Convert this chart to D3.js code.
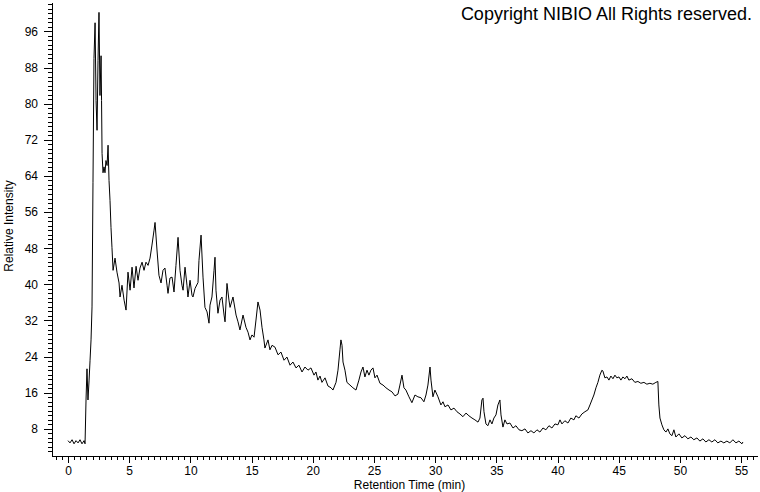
<!DOCTYPE html>
<html>
<head>
<meta charset="utf-8">
<script src="https://cdn.jsdelivr.net/npm/d3@7"></script>
<style>
	body { margin: 0; background: #fff; }
	svg { display: block; }
	.axis text { font-family: "Liberation Sans", Arial, sans-serif; font-size: 12px; fill: #000; }
	.axis path, .axis line { stroke: #000; shape-rendering: crispEdges; }
</style>
</head>
<body>
<div id="chart-area"></div>
<script>

// Chromatogram
let retentionTimes = [
	0.0, 0.16, 0.33, 0.49, 0.65, 0.82, 0.98, 1.14, 1.31, 1.39,
	1.47, 1.55, 1.63, 1.72, 1.80, 1.88, 1.96, 2.04, 2.12, 2.21,
	2.29, 2.37, 2.45, 2.53, 2.61, 2.70, 2.74, 2.78, 2.86, 2.94,
	3.02, 3.10, 3.19, 3.27, 3.35, 3.43, 3.51, 3.59, 3.68, 3.84,
	4.00, 4.17, 4.25, 4.41, 4.58, 4.74, 4.90, 5.07, 5.23, 5.39,
	5.56, 5.72, 5.88, 6.05, 6.21, 6.37, 6.54, 6.70, 6.86, 7.03,
	7.11, 7.27, 7.43, 7.60, 7.76, 7.92, 8.09, 8.17, 8.33, 8.50,
	8.66, 8.82, 8.99, 9.15, 9.31, 9.40, 9.56, 9.72, 9.80, 9.97,
	10.13, 10.21, 10.38, 10.62, 10.70, 10.87, 11.03, 11.19, 11.36, 11.52,
	11.60, 11.76, 11.93, 12.01, 12.09, 12.25, 12.42, 12.58, 12.75, 12.83,
	12.99, 13.15, 13.24, 13.48, 13.73, 13.89, 14.05, 14.30, 14.54, 14.71,
	14.87, 15.03, 15.20, 15.36, 15.52, 15.69, 15.85, 16.01, 16.09, 16.34,
	16.50, 16.67, 16.91, 17.16, 17.40, 17.65, 17.89, 18.14, 18.38, 18.63,
	18.87, 19.12, 19.36, 19.61, 19.85, 20.10, 20.26, 20.42, 20.59, 20.75,
	21.00, 21.24, 21.49, 21.65, 21.90, 22.06, 22.22, 22.30, 22.39, 22.47,
	22.63, 22.79, 23.04, 23.28, 23.53, 23.77, 23.94, 24.10, 24.26, 24.43,
	24.59, 24.75, 24.92, 25.08, 25.25, 25.49, 25.74, 25.98, 26.23, 26.47,
	26.72, 26.96, 27.12, 27.29, 27.45, 27.61, 27.86, 28.10, 28.35, 28.59,
	28.84, 29.08, 29.25, 29.41, 29.58, 29.66, 29.82, 29.98, 30.23, 30.47,
	30.64, 30.80, 31.05, 31.29, 31.54, 31.78, 32.03, 32.27, 32.52, 32.76,
	33.01, 33.25, 33.50, 33.66, 33.82, 33.91, 33.99, 34.15, 34.31, 34.48,
	34.64, 34.80, 34.97, 35.13, 35.29, 35.38, 35.54, 35.70, 35.87, 36.11,
	36.36, 36.60, 36.85, 37.09, 37.34, 37.58, 37.83, 38.07, 38.32, 38.56,
	38.81, 39.05, 39.30, 39.54, 39.79, 40.03, 40.20, 40.36, 40.60, 40.85,
	41.09, 41.34, 41.50, 41.75, 41.99, 42.24, 42.48, 42.65, 42.81, 42.97,
	43.14, 43.30, 43.46, 43.63, 43.71, 43.87, 44.04, 44.20, 44.36, 44.53,
	44.69, 44.85, 45.02, 45.18, 45.34, 45.51, 45.67, 45.83, 46.08, 46.32,
	46.57, 46.81, 47.06, 47.30, 47.55, 47.79, 48.04, 48.20, 48.28, 48.37,
	48.53, 48.69, 48.86, 49.02, 49.18, 49.35, 49.51, 49.67, 49.92, 50.16,
	50.41, 50.65, 50.90, 51.14, 51.39, 51.63, 51.88, 52.12, 52.37, 52.61,
	52.86, 53.10, 53.35, 53.59, 53.84, 54.08, 54.33, 54.58, 54.82, 55.07,
	55.15
];

let intensities = [
	5.4, 4.9, 5.6, 4.7, 5.4, 4.9, 5.6, 4.7, 5.4, 4.7,
	14.4, 21.3, 14.4, 18.8, 23.2, 27.7, 35.0, 62.6, 90.0, 97.9,
	80.7, 74.1, 89.5, 100.2, 81.8, 90.6, 80.7, 69.0, 64.7, 66.0,
	64.7, 67.4, 66.3, 70.8, 63.0, 58.6, 52.6, 48.2, 43.1, 45.8,
	42.7, 40.3, 37.2, 39.8, 36.5, 34.3, 42.7, 38.7, 43.8, 39.2,
	44.0, 40.9, 43.6, 44.9, 43.1, 44.9, 44.2, 45.8, 48.7, 52.0,
	53.7, 47.6, 42.0, 40.3, 43.1, 43.6, 39.8, 38.0, 41.4, 41.6,
	38.3, 44.2, 50.4, 43.1, 39.8, 38.7, 43.8, 39.8, 37.2, 40.9,
	37.6, 37.2, 39.1, 40.4, 45.3, 50.9, 41.6, 34.9, 33.9, 31.4,
	35.4, 37.2, 43.1, 46.0, 38.7, 33.6, 36.5, 37.2, 33.2, 31.7,
	40.2, 36.5, 34.9, 37.2, 33.2, 31.7, 29.9, 33.2, 30.5, 29.4,
	27.7, 28.8, 28.3, 32.1, 36.1, 34.3, 30.5, 27.7, 25.9, 27.7,
	25.5, 26.5, 26.1, 24.4, 25.0, 23.2, 23.9, 22.1, 22.8, 21.5,
	22.1, 20.6, 21.7, 21.0, 21.5, 19.9, 20.6, 18.8, 19.7, 18.3,
	19.3, 17.5, 17.1, 16.6, 18.3, 21.0, 25.5, 27.7, 26.5, 22.8,
	21.0, 18.3, 17.7, 17.1, 16.6, 18.8, 20.6, 21.7, 19.5, 21.0,
	19.9, 21.0, 21.5, 19.3, 19.9, 18.1, 17.7, 17.1, 16.6, 16.2,
	15.3, 15.7, 17.7, 19.9, 17.1, 16.6, 15.1, 13.8, 15.5, 15.1,
	14.9, 14.0, 15.5, 17.7, 21.7, 18.8, 15.1, 16.6, 15.1, 13.3,
	14.0, 12.9, 13.3, 12.2, 12.6, 11.8, 11.3, 10.7, 11.5, 10.9,
	10.4, 10.0, 9.5, 10.4, 14.4, 14.8, 11.8, 9.1, 8.7, 10.0,
	9.1, 10.4, 11.1, 13.3, 14.4, 11.1, 8.4, 10.0, 9.1, 9.3,
	8.2, 8.7, 7.8, 7.6, 8.0, 7.1, 7.6, 7.1, 7.8, 7.3,
	8.2, 7.8, 8.7, 8.2, 9.1, 8.9, 10.0, 9.1, 9.8, 9.3,
	10.4, 10.0, 10.9, 10.4, 11.3, 11.8, 12.2, 13.3, 14.4, 15.5,
	17.1, 18.3, 19.9, 21.0, 20.8, 19.3, 19.5, 18.8, 19.7, 19.1,
	19.9, 19.3, 19.5, 18.8, 19.5, 19.1, 19.7, 18.8, 19.1, 18.3,
	18.5, 18.1, 18.3, 17.9, 18.1, 17.9, 18.3, 18.5, 13.3, 10.4,
	8.9, 7.8, 7.3, 8.0, 6.9, 6.5, 7.8, 6.2, 6.9, 6.0,
	6.5, 5.8, 6.2, 5.6, 6.0, 5.3, 5.8, 5.1, 5.6, 5.1,
	5.6, 4.9, 5.3, 4.9, 5.3, 4.9, 5.6, 4.9, 5.3, 4.7,
	5.1
];

let xTickValues = [0, 5, 10, 15, 20, 25, 30, 35, 40, 45, 50, 55];
let yTickValues = [8, 16, 24, 32, 40, 48, 56, 64, 72, 80, 88, 96];

let xDomain = [-1.31, 56.3];
let yDomain = [2.0, 102.5];

let chartTitle = "Copyright NIBIO All Rights reserved.";
let xLabel = "Retention Time (min)";
let yLabel = "Relative Intensity";


/////////////////////////
// SVG drawing area
/////////////////////////

let margin = {top: 2, right: 3, bottom: 36, left: 52};

let width = 760 - margin.left - margin.right,
	height = 492 - margin.top - margin.bottom;

let root = d3.select("#chart-area").append("svg")
	.attr("width", 760)
	.attr("height", 492);

let svg = root.append("g")
	.attr("transform", "translate(" + margin.left + "," + margin.top + ")");

let data = retentionTimes.map((t, i) => ({time: t, value: intensities[i]}));


/////////////////////////
// Scales and axes
/////////////////////////

let x = d3.scaleLinear()
	.domain(xDomain)
	.range([0, width]);

let y = d3.scaleLinear()
	.domain(yDomain)
	.range([height, 0]);

// minor ticks first, labelled ones drawn on top
let xMinor = d3.range(-1, 56.5, 0.5);
let yMinor = d3.range(3, 103, 1);

svg.append("g")
	.attr("class", "x-axis axis")
	.attr("transform", "translate(0," + height + ")")
	.call(d3.axisBottom(x).tickValues(xMinor).tickSize(4).tickFormat("").tickSizeOuter(0));

svg.append("g")
	.attr("class", "x-axis axis")
	.attr("transform", "translate(0," + height + ")")
	.call(d3.axisBottom(x).tickValues(xTickValues).tickSize(7).tickPadding(3).tickSizeOuter(0));

svg.append("g")
	.attr("class", "y-axis axis")
	.call(d3.axisLeft(y).tickValues(yMinor).tickSize(4).tickFormat("").tickSizeOuter(0));

svg.append("g")
	.attr("class", "y-axis axis")
	.call(d3.axisLeft(y).tickValues(yTickValues).tickSize(8).tickPadding(6).tickSizeOuter(0));


/////////////////////////
// Trace
/////////////////////////

let line = d3.line()
	.x(d => x(d.time))
	.y(d => y(d.value))
	.curve(d3.curveLinear);

svg.append("path")
	.datum(data)
	.attr("d", line)
	.attr("fill", "none")
	.attr("stroke", "#000")
	.attr("stroke-width", 1);


/////////////////////////
// Labels
/////////////////////////

root.append("text")
	.attr("x", 752)
	.attr("y", 20)
	.attr("text-anchor", "end")
	.attr("font-family", "Liberation Sans, Arial, sans-serif")
	.attr("font-size", 18)
	.text(chartTitle);

root.append("text")
	.attr("x", margin.left + x(xDomain[0] + (xDomain[1] - xDomain[0]) / 2) + 5)
	.attr("y", 489)
	.attr("text-anchor", "middle")
	.attr("font-family", "Liberation Sans, Arial, sans-serif")
	.attr("font-size", 12)
	.text(xLabel);

root.append("text")
	.attr("transform", "translate(13,226) rotate(-90)")
	.attr("text-anchor", "middle")
	.attr("font-family", "Liberation Sans, Arial, sans-serif")
	.attr("font-size", 12)
	.text(yLabel);

</script>
</body>
</html>
